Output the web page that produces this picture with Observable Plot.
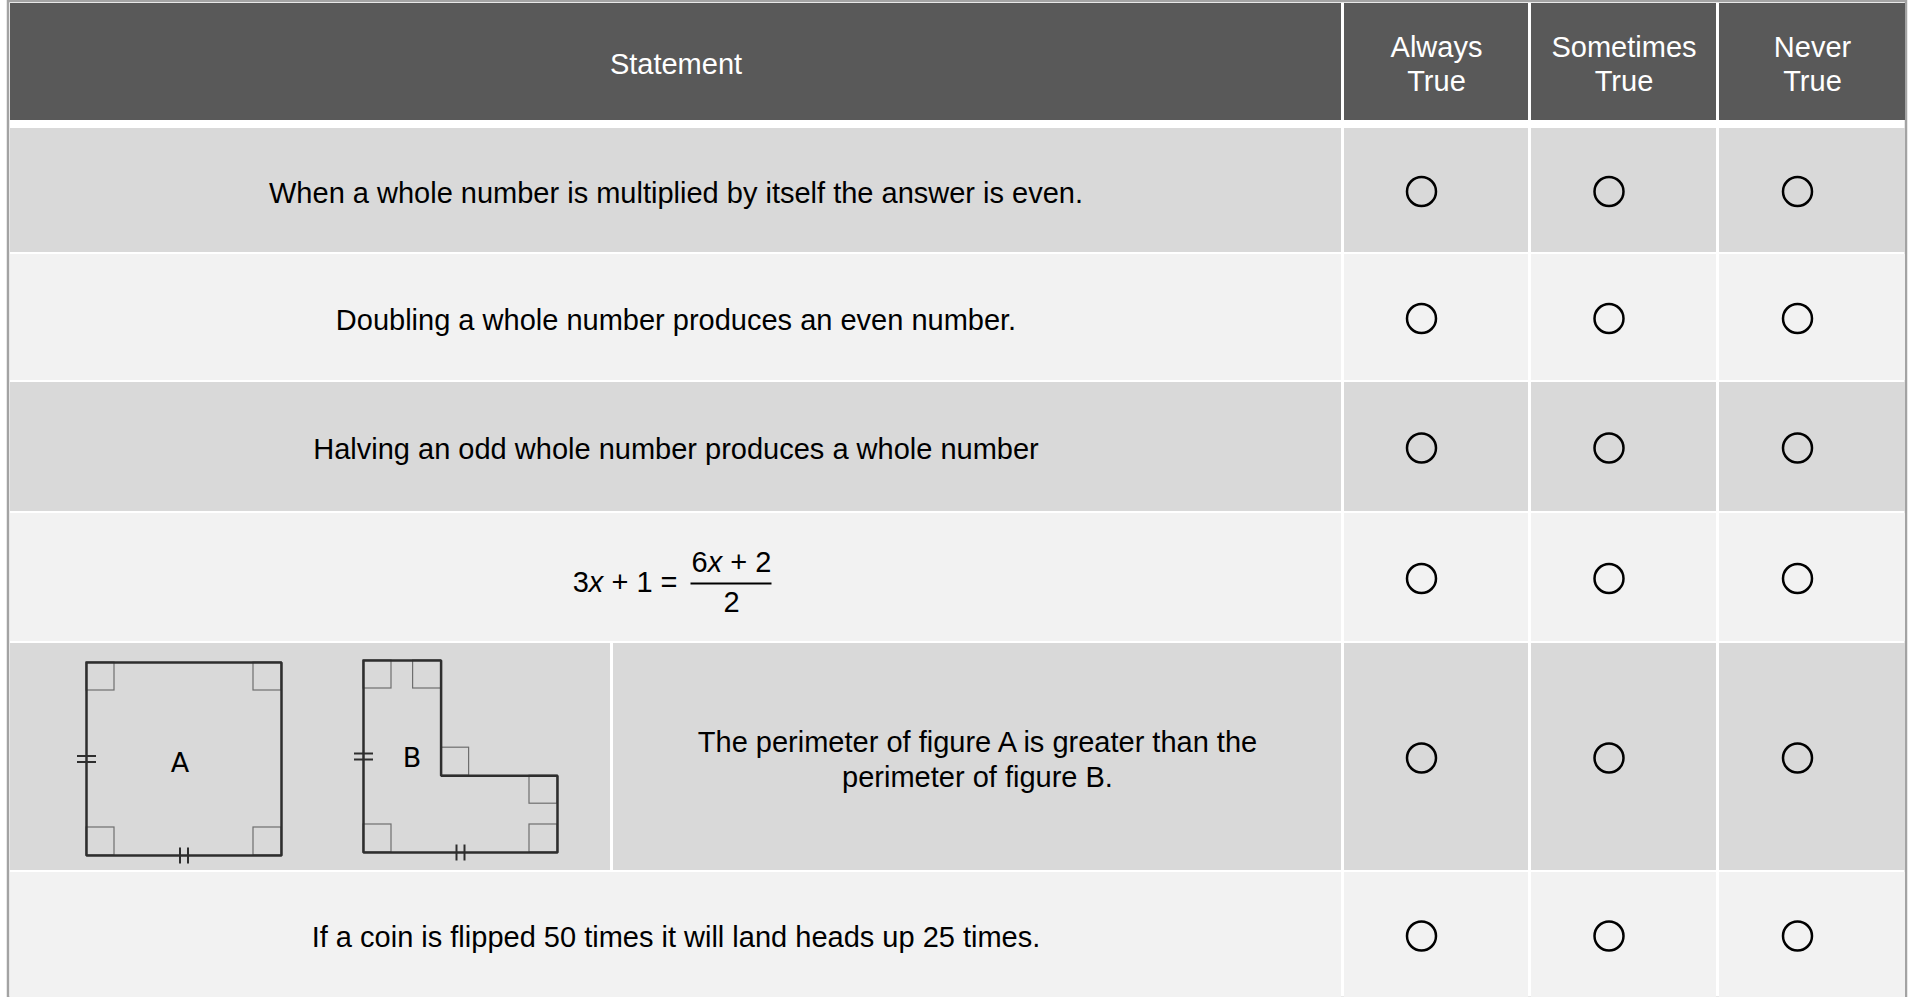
<!DOCTYPE html>
<html>
<head>
<meta charset="utf-8">
<script src="https://cdn.jsdelivr.net/npm/d3@7"></script>
<script src="https://cdn.jsdelivr.net/npm/@observablehq/plot@0.6"></script>
<style>
  html, body { margin: 0; padding: 0; background: #fff; overflow: hidden; }
</style>
</head>
<body>
<div id="chart"></div>
<script>
// ---------- DATA ----------
const headers = ["Statement", "Always\nTrue", "Sometimes\nTrue", "Never\nTrue"];
const options = ["Always True", "Sometimes True", "Never True"];
const statements = [
  "When a whole number is multiplied by itself the answer is even.",
  "Doubling a whole number produces an even number.",
  "Halving an odd whole number produces a whole number",
  null, // equation row
  "The perimeter of figure A is greater than the\nperimeter of figure B.",
  "If a coin is flipped 50 times it will land heads up 25 times."
];
const eqLeft = "3x + 1 =";
const eqNumerator = "6x + 2";
const eqDenominator = "2";
const figureLabels = ["A", "B"];

// shape geometry (unit square space)
const shapeA = [[0,0],[1,0],[1,1],[0,1],[0,0]];
const shapeB = [[0,0],[0.4,0],[0.4,0.6],[1,0.6],[1,1],[0,1],[0,0]];
const cornersA = [[0,0,1,1],[1,0,-1,1],[0,1,1,-1],[1,1,-1,-1]];
const cornersB = [[0,0,1,1],[0.4,0,-1,1],[0.4,0.6,1,-1],[1,0.6,-1,1],[1,1,-1,-1],[0,1,1,-1]];

// ---------- LAYOUT ----------
const W = 1908, H = 997;
const L = {
  cols: [[10,1341],[1344,1528],[1531,1716],[1719,1905]],
  header: [3,120],
  rows: [[128,252],[254,380],[382,511],[513,641],[643,870],[872,997]],
  figSplit: [610, 613],
  circleOffset: -15,
  fs: 29,
  figBoxes: [
    {x: 86, y: 662, w: 195, h: 193, label: [0.48, 0.52]},
    {x: 363, y: 660, w: 194, h: 192, label: [0.25, 0.51]}
  ],
  sq: 28
};
const rowFill = i => (i % 2 === 0 ? "#d9d9d9" : "#f2f2f2");
const cx = c => (L.cols[c][0] + L.cols[c][1]) / 2;
const cy = r => (L.rows[r][0] + L.rows[r][1]) / 2;

// header cells
const headerCells = headers.map((h, i) => ({label: h, x1: L.cols[i][0], x2: L.cols[i][1], y1: L.header[0], y2: L.header[1]}));

// body cells
const bodyCells = [];
statements.forEach((s, r) => {
  L.cols.forEach((c, ci) => {
    if (r === 4 && ci === 0) {
      bodyCells.push({x1: c[0], x2: L.figSplit[0], y1: L.rows[r][0], y2: L.rows[r][1], fill: rowFill(r)});
      bodyCells.push({x1: L.figSplit[1], x2: c[1], y1: L.rows[r][0], y2: L.rows[r][1], fill: rowFill(r)});
    } else {
      bodyCells.push({x1: c[0], x2: c[1], y1: L.rows[r][0], y2: L.rows[r][1], fill: rowFill(r)});
    }
  });
});

// statement texts
const stmtTexts = statements.map((s, r) => s == null ? null : ({
  text: s,
  x: r === 4 ? (L.figSplit[1] + L.cols[0][1]) / 2 : cx(0),
  y: cy(r) + 1
})).filter(d => d);

// radio circles
const dots = [];
statements.forEach((s, r) => options.forEach((o, i) => dots.push({row: r, option: o, x: cx(i + 1) + L.circleOffset, y: cy(r) + 1})));

// equation
const eqRow = 3;
const eqY = cy(eqRow);
const fracX = 731, fracHalf = 40.5;
const eqLeftText = [{text: eqLeft, x: 677, y: eqY + 5}];
const eqFracTexts = [
  {text: eqNumerator, x: fracX, y: eqY - 15},
  {text: eqDenominator, x: fracX, y: eqY + 25}
];
const fracLine = [{x1: fracX - fracHalf, x2: fracX + fracHalf, y: eqY + 6}];

// figures
const shapes = [shapeA, shapeB];
const corners = [cornersA, cornersB];
const outline = [];
const squares = [];
const ticks = [];
const labels = [];
L.figBoxes.forEach((b, fi) => {
  shapes[fi].forEach(([u, v]) => outline.push({fig: fi, x: b.x + u * b.w, y: b.y + v * b.h}));
  corners[fi].forEach(([u, v, dx, dy]) => {
    const px = b.x + u * b.w, py = b.y + v * b.h;
    squares.push({x1: Math.min(px, px + dx * L.sq), x2: Math.max(px, px + dx * L.sq), y1: Math.min(py, py + dy * L.sq), y2: Math.max(py, py + dy * L.sq)});
  });
  // equal-length marks: left side (horizontal strokes), bottom side (vertical strokes)
  const lx = b.x, ly = b.y + b.h / 2;
  [-3, 3].forEach(o => ticks.push({x1: lx - 9.5, x2: lx + 9.5, y1: ly + o, y2: ly + o}));
  const bx = b.x + b.w / 2, by = b.y + b.h;
  [-4, 4].forEach(o => ticks.push({x1: bx + o, x2: bx + o, y1: by - 8, y2: by + 8}));
  labels.push({text: figureLabels[fi], x: b.x + b.label[0] * b.w, y: b.y + b.label[1] * b.h});
});

const font = "'Liberation Sans', Arial, Helvetica, sans-serif";

const svg = Plot.plot({
  width: W,
  height: H,
  margin: 0,
  x: {type: "identity", axis: null},
  y: {type: "identity", axis: null},
  style: {background: "#fff", fontFamily: font, overflow: "hidden"},
  marks: [
    Plot.rect([{x1: 8, x2: 1906, y1: 1, y2: 998}], {x1: "x1", x2: "x2", y1: "y1", y2: "y2", fill: "none", stroke: "#a3a3a3", strokeWidth: 2.5}),
    Plot.rect(headerCells, {x1: "x1", x2: "x2", y1: "y1", y2: "y2", fill: "#595959"}),
    Plot.rect(bodyCells, {x1: "x1", x2: "x2", y1: "y1", y2: "y2", fill: "fill"}),
    Plot.text(headerCells, {x: d => (d.x1 + d.x2) / 2, y: d => (d.y1 + d.y2) / 2 + 1, text: "label", fill: "#ffffff", fontSize: L.fs, lineHeight: 1.17, fontFamily: font}),
    Plot.text(stmtTexts, {x: "x", y: "y", text: "text", fill: "#000", fontSize: L.fs, lineHeight: 1.2, fontFamily: font}),
    Plot.text(eqLeftText, {x: "x", y: "y", text: "text", textAnchor: "end", fill: "#000", fontSize: L.fs, fontFamily: font}),
    Plot.text(eqFracTexts, {x: "x", y: "y", text: "text", textAnchor: "middle", fill: "#000", fontSize: L.fs, fontFamily: font}),
    Plot.ruleY(fracLine, {x1: "x1", x2: "x2", y: "y", stroke: "#000", strokeWidth: 2}),
    Plot.dot(dots, {x: "x", y: "y", r: 14.5, stroke: "#000", strokeWidth: 2.5, fill: "none"}),
    Plot.rect(squares, {x1: "x1", x2: "x2", y1: "y1", y2: "y2", fill: "none", stroke: "#6e6e6e", strokeWidth: 1.2}),
    Plot.line(outline, {x: "x", y: "y", z: "fig", stroke: "#2e2e2e", strokeWidth: 2.5, strokeLinejoin: "miter", curve: "linear"}),
    Plot.link(ticks, {x1: "x1", x2: "x2", y1: "y1", y2: "y2", stroke: "#2e2e2e", strokeWidth: 2}),
    Plot.text(labels, {x: "x", y: "y", text: "text", fill: "#000", fontSize: 27, fontFamily: "'DejaVu Sans', Verdana, sans-serif"})
  ]
});

// italic "x" in the equation
svg.querySelectorAll("text").forEach(t => {
  const s = t.textContent;
  if (s !== eqLeft && s !== eqNumerator) return;
  t.textContent = "";
  s.split(/(x)/).forEach(part => {
    if (!part) return;
    const ts = document.createElementNS("http://www.w3.org/2000/svg", "tspan");
    ts.textContent = part;
    if (part === "x") ts.setAttribute("font-style", "italic");
    t.appendChild(ts);
  });
});

document.getElementById("chart").appendChild(svg);
</script>
</body>
</html>
